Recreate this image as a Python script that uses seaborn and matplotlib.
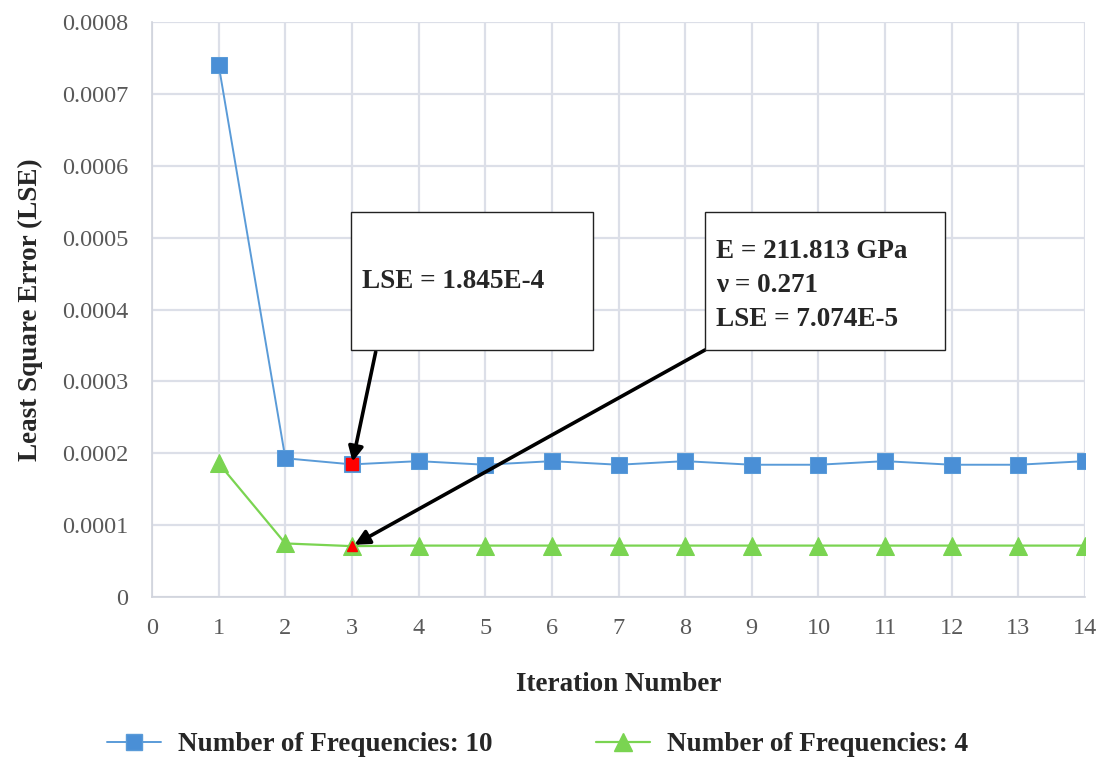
import matplotlib
matplotlib.use("Agg")
import matplotlib.pyplot as plt
from matplotlib.patches import Rectangle
from matplotlib.lines import Line2D
import seaborn as sns
import pandas as pd

iterations = list(range(1, 15))
lse_freq10 = [0.000740, 0.000193, 0.0001845, 0.000189, 0.000184, 0.000189, 0.000184,
              0.000189, 0.000184, 0.000184, 0.000189, 0.000184, 0.000184, 0.000189]
lse_freq4 = [0.000186, 0.0000745, 0.00007074, 0.0000715, 0.0000715, 0.0000715, 0.0000715,
             0.0000715, 0.0000715, 0.0000715, 0.0000715, 0.0000715, 0.0000715, 0.0000715]
series_names = ["Number of Frequencies: 10", "Number of Frequencies: 4"]
best_iter = 3
box1_lines = ["LSE = 1.845E-4"]
box2_lines = ["E = 211.813 GPa", "ν = 0.271", "LSE = 7.074E-5"]

sns.set_theme(style="white")
plt.rcParams["font.family"] = ["Liberation Serif", "DejaVu Serif"]

blue = "#5A9BD8"
blue_face = "#4A8FD6"
green = "#7AD451"
tick_col = "#595959"
grid_col = "#DCDFE8"
bold_size = 19.5

df = pd.DataFrame({
    "Iteration": iterations * 2,
    "LSE": lse_freq10 + lse_freq4,
    "Series": [series_names[0]] * 14 + [series_names[1]] * 14,
})

fig = plt.figure(figsize=(11.05, 7.6), dpi=100)
ax = fig.add_axes([0.1376, 0.2145, 0.8443, 0.7565])

sns.lineplot(data=df[df.Series == series_names[0]], x="Iteration", y="LSE", ax=ax,
             color=blue, lw=1.4, marker="s", markersize=11.5, markeredgecolor=blue,
             markerfacecolor=blue_face, legend=False)
sns.lineplot(data=df[df.Series == series_names[1]], x="Iteration", y="LSE", ax=ax,
             color=green, lw=1.6, marker="^", markersize=12.5, markeredgecolor=green,
             markerfacecolor=green, legend=False)

# highlighted optimum at iteration 3
i = iterations.index(best_iter)
ax.plot([best_iter], [lse_freq10[i]], marker="s", markersize=8, color="red", zorder=5)
ax.plot([best_iter], [lse_freq4[i]], marker="^", markersize=7.5, color="red", zorder=5)

ax.set_xlim(0, 14)
ax.set_ylim(0, 0.0008)
ax.set_xticks(range(0, 15))
yt = [k * 0.0001 for k in range(9)]
ax.set_yticks(yt)
ax.set_yticklabels(["0"] + [f"{v:.4f}" for v in yt[1:]])
ax.tick_params(axis="both", labelsize=17.5, colors=tick_col, length=0)
ax.tick_params(axis="x", pad=15)
ax.tick_params(axis="y", pad=17)
ax.grid(True, color=grid_col, lw=1.6)
for s in ["top", "right"]:
    ax.spines[s].set_visible(False)
for s in ["left", "bottom"]:
    ax.spines[s].set_color("#D0D3DC")
    ax.spines[s].set_linewidth(1.2)

ax.set_xlabel("Iteration Number", fontsize=bold_size, fontweight="bold", labelpad=24)
ax.set_ylabel("Least Square Error (LSE)", fontsize=bold_size, fontweight="bold", labelpad=14)

# annotation boxes
b1 = Rectangle((0.3176, 0.5395), 0.2191, 0.1816, transform=fig.transFigure,
               facecolor="white", edgecolor="#222222", lw=1.0, zorder=6)
b2 = Rectangle((0.638, 0.5395), 0.2172, 0.1816, transform=fig.transFigure,
               facecolor="white", edgecolor="#222222", lw=1.0, zorder=6)
fig.patches.extend([b1, b2])
fig.text(0.3276, 0.629, box1_lines[0], fontsize=bold_size, fontweight="bold", va="center", zorder=7)
for k, line in enumerate(box2_lines):
    fig.text(0.648, 0.669 - k * 0.0447, line, fontsize=bold_size, fontweight="bold",
             va="center", zorder=7)

arrow = dict(arrowstyle="-|>", color="black", lw=2.6, mutation_scale=22, shrinkA=0, shrinkB=2)
ax.annotate("", xy=(best_iter, lse_freq10[i]), xytext=(0.34, 0.537),
            textcoords="figure fraction", arrowprops=arrow, zorder=8)
ax.annotate("", xy=(best_iter, lse_freq4[i]), xytext=(0.638, 0.5395),
            textcoords="figure fraction", arrowprops=arrow, zorder=8)

handles = [
    Line2D([], [], color=blue, lw=1.4, marker="s", markersize=11.5, markerfacecolor=blue_face,
           markeredgecolor=blue),
    Line2D([], [], color=green, lw=1.6, marker="^", markersize=12.5, markerfacecolor=green,
           markeredgecolor=green),
]
fig.legend(handles, series_names, loc="center", bbox_to_anchor=(0.4864, 0.02), ncol=2,
           frameon=False, handlelength=2.0, columnspacing=3.8, handletextpad=0.63,
           prop={"family": "Liberation Serif", "weight": "bold", "size": bold_size})

fig.savefig("out.png", dpi=100)
